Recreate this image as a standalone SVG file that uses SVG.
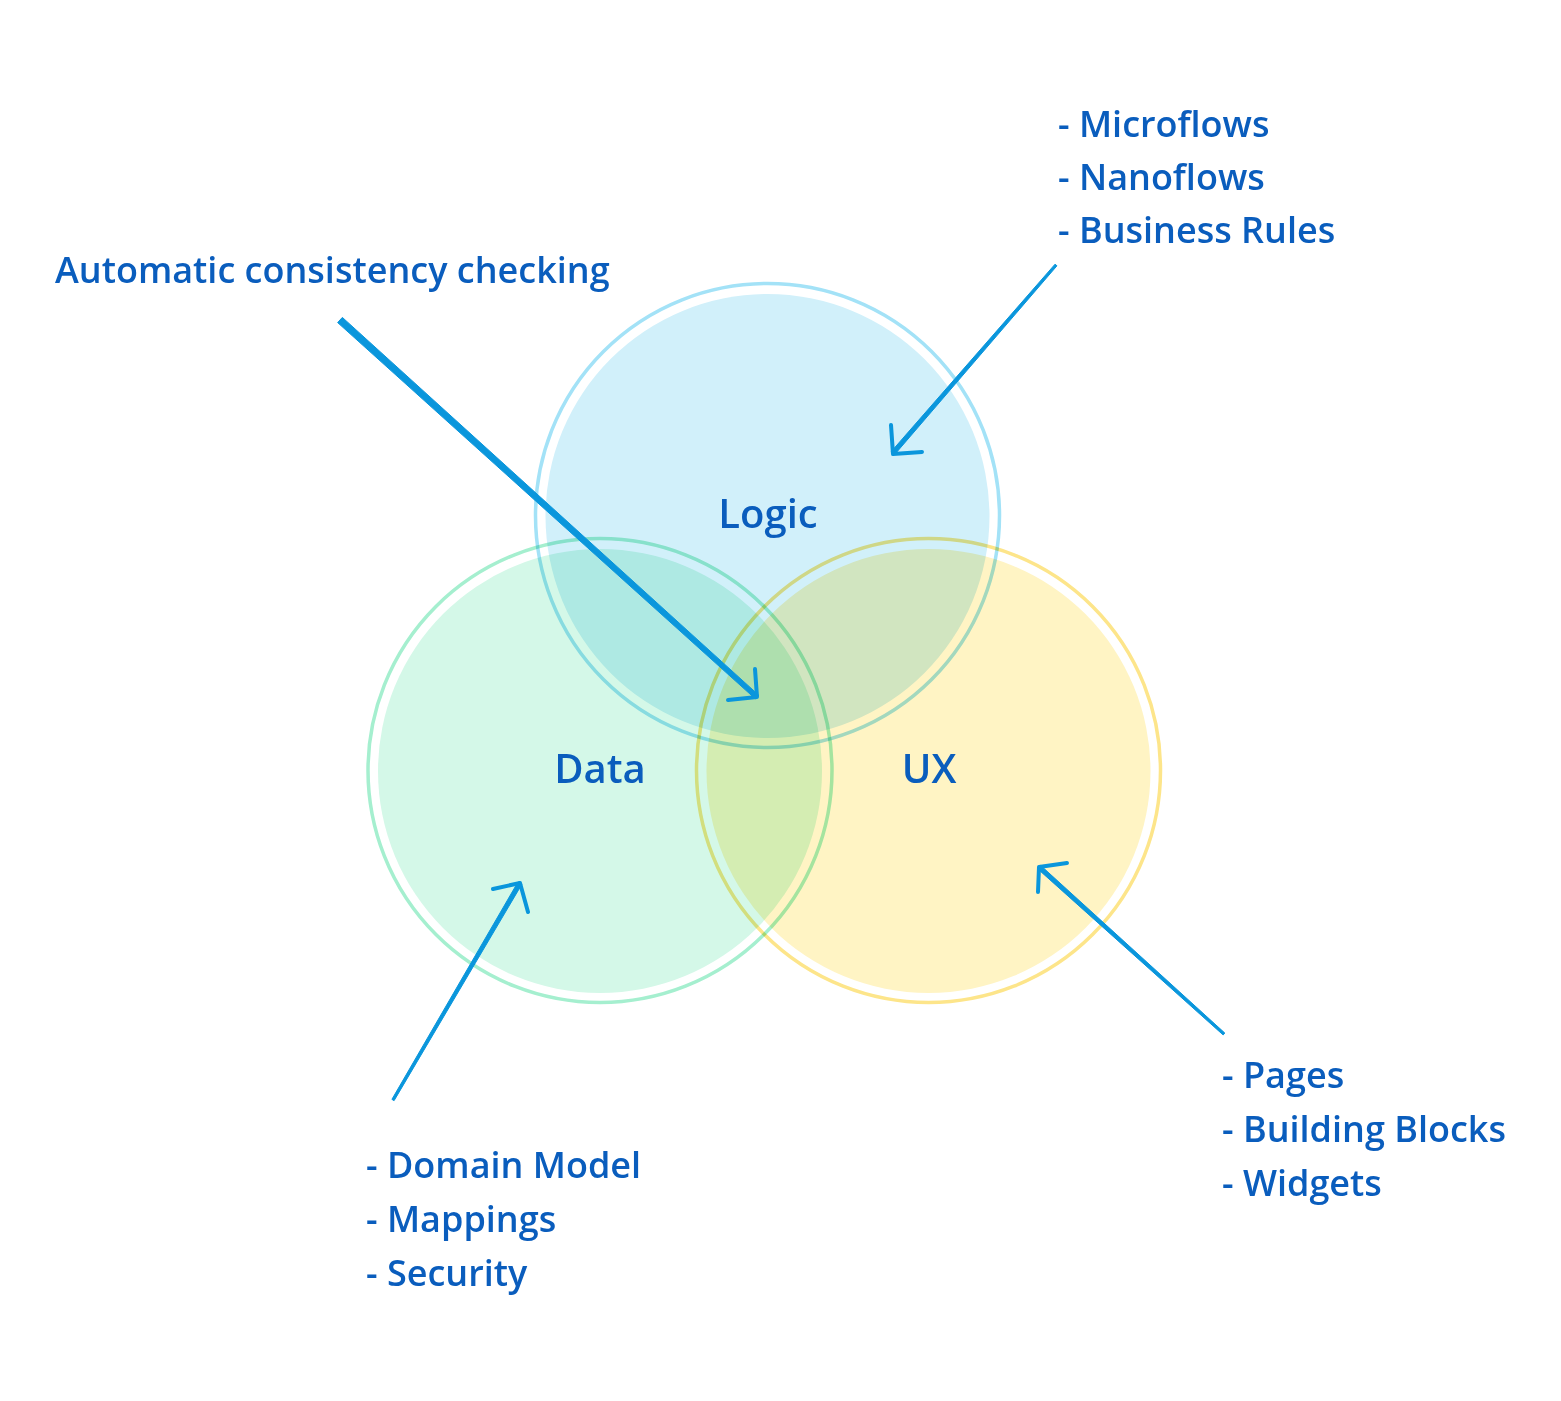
<svg xmlns="http://www.w3.org/2000/svg" width="1561" height="1401" viewBox="0 0 1561 1401">
<style>
.fill{mix-blend-mode:multiply}
.ring{fill:none;stroke-width:3.5;mix-blend-mode:multiply}
.t{font-family:"Open Sans","Noto Sans",sans-serif;fill:#0a5dbd}
.title{font-size:40px;font-weight:600;text-anchor:middle}
.item{font-size:36px;font-weight:600}
.note{font-size:36px;font-weight:600}
.shaft{fill:#0a96dc;stroke:#0a96dc;stroke-width:1;stroke-linejoin:round}
.head{fill:none;stroke:#0a96dc;stroke-width:4;stroke-linecap:round;stroke-linejoin:round}
</style>
<rect width="1561" height="1401" fill="#ffffff"/>
<g id="circles">
<g id="logic-circle">
<circle class="fill" cx="767.5" cy="516" r="222" fill="#d1f0fa"/>
<circle class="ring" cx="767.5" cy="515.5" r="232" stroke="#a3e2f7"/>
</g>
<g id="data-circle">
<circle class="fill" cx="600" cy="771" r="222" fill="#d4f8e8"/>
<circle class="ring" cx="600" cy="770.5" r="232" stroke="#a5efcf"/>
</g>
<g id="ux-circle">
<circle class="fill" cx="928.5" cy="771" r="222" fill="#fff4c4"/>
<circle class="ring" cx="928.5" cy="770.5" r="232" stroke="#fde58a"/>
</g>
</g>
<g id="logic"><text class="t title" x="768" y="528">Logic</text></g>
<g id="data"><text class="t title" x="600" y="783">Data</text></g>
<g id="ux"><text class="t title" x="929" y="783">UX</text></g>
<g id="note-consistency"><text class="t note" x="55" y="283">Automatic consistency checking</text></g>
<g id="logic-items">
<text class="t item" x="1058" y="137">- Microflows</text>
<text class="t item" x="1058" y="190">- Nanoflows</text>
<text class="t item" x="1058" y="243">- Business Rules</text>
</g>
<g id="data-items">
<text class="t item" x="366" y="1178">- Domain Model</text>
<text class="t item" x="366" y="1232">- Mappings</text>
<text class="t item" x="366" y="1286">- Security</text>
</g>
<g id="ux-items">
<text class="t item" x="1222" y="1088">- Pages</text>
<text class="t item" x="1222" y="1142">- Building Blocks</text>
<text class="t item" x="1222" y="1196">- Widgets</text>
</g>
<g id="connectors">
<polygon class="shaft" points="337.65,322.6 342.35,317.4 758.68,695.15 755.32,698.85"/>
<path class="head" d="M755,669 L757,697 L728,700"/>
<polygon class="shaft" points="1055.06,264.18 1056.94,265.82 894.7,454.47 891.3,451.53"/>
<path class="head" d="M891,425 L893,454 L922,452"/>
<polygon class="shaft" points="394.08,1100.63 391.92,1099.37 518.06,881.86 521.94,884.14"/>
<path class="head" d="M493,889 L520,883 L528,912"/>
<polygon class="shaft" points="1224.84,1033.07 1223.16,1034.93 1037.49,868.67 1040.51,865.33"/>
<path class="head" d="M1067,863 L1039,867 L1038,892"/>
</g>
</svg>
